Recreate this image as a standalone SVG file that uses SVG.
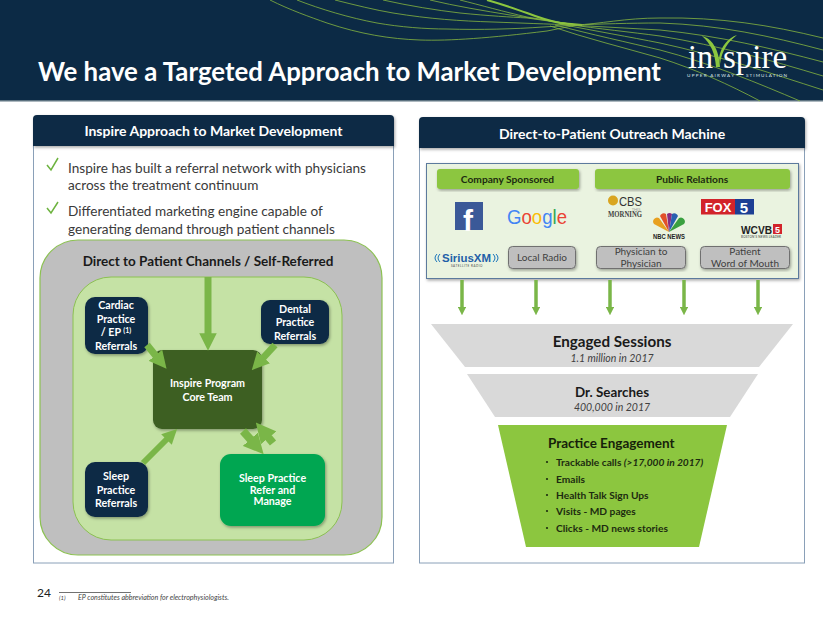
<svg xmlns="http://www.w3.org/2000/svg" width="823" height="637" viewBox="0 0 823 637">
<defs>
<filter id="sh" x="-10%" y="-10%" width="125%" height="125%"><feDropShadow dx="1" dy="1.5" stdDeviation="1.5" flood-color="#000" flood-opacity="0.35"/></filter>
<marker id="ah" viewBox="0 0 10 10" refX="0.5" refY="5" markerWidth="2.5" markerHeight="2.5" orient="auto" markerUnits="strokeWidth"><path d="M0 0L10 5L0 10Z" fill="#7ab648"/></marker>
</defs>
<style>
text{font-family:Lato,"Liberation Sans",sans-serif}
.hd{font-size:14px;font-weight:700;fill:#fff;text-anchor:middle}
.body{font-size:13.6px;fill:#3a3a3a}
.chk{fill:none;stroke:#6db33f;stroke-width:1.5}
.nd{font-size:10.7px;font-weight:700;fill:#fff;text-anchor:middle}
.navy{fill:#0c2a45;filter:url(#sh)}
.gr{font-size:10.2px;font-weight:700;fill:#1c2b10;text-anchor:middle}
.gbtn{fill:#bfbfbf;stroke:#6f6f6f;stroke-width:1;filter:url(#sh)}
.gt{font-size:10px;fill:#404040;text-anchor:middle}
.arr{stroke:#7ab648;fill:none}
.bul{font-size:10.2px;font-weight:700;fill:#1c2b10}
.dot{fill:#1c2b10}
.w{fill:none;stroke:#86b640;stroke-width:.8}
.serif{font-family:"Liberation Serif",serif}
.arial{font-family:"Liberation Sans",sans-serif}
</style>
<rect width="823" height="637" fill="#fff"/>
<g id="banner">
<rect width="823" height="101" fill="#0c2a45"/>
<rect y="100" width="823" height="1.500" fill="#5d7280"/>
<path class="w" d="M270 0C290 10 310 17 327 23C360 34 390 39 420 40C450 41 490 38 547 31L577 25"/>
<path class="w" d="M297 0C320 9 350 18 377 23C400 27 425 29 447 29C480 30 515 29 543 27L577 25"/>
<path class="w" d="M335 0C355 5 375 10 393 13C430 19 460 21 493 22C520 23 545 24 577 25"/>
<path class="w" d="M383 0C410 6 435 10 460 13C490 16 510 17 527 18L577 25"/>
<path class="w" d="M430 0C455 6 485 11 510 15L577 25"/>
<path class="w" d="M460 0C480 5 505 12 527 17L577 25"/>
<path d="M487 0C505 5 515 9 527 13C540 18 550 21 560 23L582 25" fill="none" stroke="#8cc63f" stroke-width="2"/>
<path class="w" d="M575 25C600 24 625 18 660 18C720 17 770 25 823 38"/>
<path class="w" d="M575 25C600 24 630 23 660 23C720 25 770 36 823 50"/>
<path class="w" d="M570 25C600 27 630 28 660 30C720 36 770 48 823 62"/>
<path class="w" d="M565 24C600 29 630 32 660 36C720 46 770 60 823 76"/>
<path class="w" d="M560 24C595 31 630 37 660 43C720 56 770 73 823 90"/>
<path class="w" d="M555 25C590 34 630 43 660 50C710 63 760 84 800 101"/>
<path class="w" d="M550 26C585 38 625 48 660 58C695 69 730 85 760 101"/>
</g>
<text id="title" x="38" y="81" font-size="25.800" font-weight="700" fill="#fff">We have a Targeted Approach to Market Development</text>
<g id="logo">
<path d="M702 36C711 38 719 48 720 67H716C715 53 711 44 702 36Z" fill="#8cc63f"/>
<path d="M737 35C728 38 721 46 719 58L720 64C722 50 728 42 737 35Z" fill="#8cc63f"/>
<text class="serif" x="688" y="68" font-size="33" fill="#fff" textLength="25" lengthAdjust="spacingAndGlyphs">in</text>
<text class="serif" x="723" y="68" font-size="33" fill="#fff" textLength="64" lengthAdjust="spacingAndGlyphs">spire</text>
<text x="687" y="77" font-size="4.600" fill="#dfe7ea" textLength="47">UPPER AIRWAY</text>
<text x="746" y="77" font-size="4.600" fill="#dfe7ea" textLength="41">STIMULATION</text>
</g>
<g id="panel-left">
<rect x="33.500" y="125" width="360" height="438" fill="#fff" stroke="#8aa0b8" stroke-width="1"/>
<path d="M33 146V119a4 4 0 0 1 4-4H390a4 4 0 0 1 4 4V146Z" fill="#0c2a45" filter="url(#sh)"/>
<text class="hd" x="213.500" y="136">Inspire Approach to Market Development</text>
<path class="chk" d="M47 165L51 170L58 158"/>
<text class="body" x="68" y="172.500">Inspire has built a referral network with physicians</text>
<text class="body" x="68" y="190">across the treatment continuum</text>
<path class="chk" d="M47 208L51 213L58 202"/>
<text class="body" x="68" y="216">Differentiated marketing engine capable of</text>
<text class="body" x="68" y="233.500">generating demand through patient channels</text>
</g>
<g id="panel-right">
<rect x="419.500" y="125" width="385" height="438" fill="#fff" stroke="#8aa0b8" stroke-width="1"/>
<path d="M419 148V121a4 4 0 0 1 4-4H801a4 4 0 0 1 4 4V148Z" fill="#0c2a45" filter="url(#sh)"/>
<text class="hd" x="612" y="138.500">Direct-to-Patient Outreach Machine</text>
</g>
<g id="outer-channels">
<rect x="40" y="240" width="342" height="315" rx="38" fill="#bfbfbf" stroke="#8cc152" stroke-width="1.200"/>
<text x="208" y="266" font-size="13.500" font-weight="700" fill="#1a1a1a" text-anchor="middle">Direct to Patient Channels / Self-Referred</text>
</g>
<g id="inner-channels">
<rect x="73" y="277" width="269" height="263" rx="38" fill="#c5e2a5" stroke="#8cc152" stroke-width="1"/>
</g>
<g id="node-cardiac"><rect class="navy" x="85" y="297" width="63" height="57" rx="10"/>
<text class="nd" x="116" y="309">Cardiac</text><text class="nd" x="116" y="322.500">Practice</text><text class="nd" x="116" y="336">/ EP <tspan font-size="7" dy="-3">(1)</tspan></text><text class="nd" x="116" y="350">Referrals</text></g>
<g id="node-dental"><rect class="navy" x="261" y="300" width="68" height="44" rx="9"/>
<text class="nd" x="295" y="312.500">Dental</text><text class="nd" x="295" y="326">Practice</text><text class="nd" x="295" y="340">Referrals</text></g>
<g id="node-sleep"><rect class="navy" x="85" y="462" width="63" height="55" rx="10"/>
<text class="nd" x="116" y="480">Sleep</text><text class="nd" x="116" y="494">Practice</text><text class="nd" x="116" y="507">Referrals</text></g>
<g id="node-core"><rect x="153" y="350" width="109" height="79" rx="9" fill="#3c5e21" filter="url(#sh)"/>
<text class="nd" x="207.500" y="387">Inspire Program</text><text class="nd" x="207.500" y="401">Core Team</text></g>
<g id="node-manage"><rect x="220" y="454" width="105" height="72" rx="11" fill="#00a651" filter="url(#sh)"/>
<text class="nd" x="272.500" y="482">Sleep Practice</text><text class="nd" x="272.500" y="493.500">Refer and</text><text class="nd" x="272.500" y="504.500">Manage</text></g>
<g id="sources">
<rect x="426.500" y="163.500" width="372" height="115" fill="#eaf3e0" stroke="#5b7a9d" stroke-width="1" filter="url(#sh)"/>
<rect x="437" y="169" width="142" height="20" rx="3" fill="#8cc63f" filter="url(#sh)"/>
<text class="gr" x="507.500" y="182.500">Company Sponsored</text>
<rect x="595" y="169" width="195" height="20" rx="3" fill="#8cc63f" filter="url(#sh)"/>
<text class="gr" x="692" y="182.500">Public Relations</text>
<rect class="gbtn" x="508.500" y="246.500" width="67" height="22" rx="4"/>
<text class="gt" x="542" y="261">Local Radio</text>
<rect class="gbtn" x="596.500" y="246.500" width="89" height="22" rx="4"/>
<text class="gt" x="641" y="254.500">Physician to</text><text class="gt" x="641" y="267">Physician</text>
<rect class="gbtn" x="700.500" y="246.500" width="89" height="22" rx="4"/>
<text class="gt" x="745" y="254.500">Patient</text><text class="gt" x="745" y="267">Word of Mouth</text>
</g>
<g id="logos">
<rect x="455" y="202" width="28" height="28" fill="#3b5998"/>
<text class="arial" x="463" y="231" font-size="30" font-weight="700" fill="#fff">f</text>
<text class="arial" x="507" y="224" font-size="20.500" textLength="60" lengthAdjust="spacingAndGlyphs"><tspan fill="#4285f4">G</tspan><tspan fill="#ea4335">o</tspan><tspan fill="#fbbc05">o</tspan><tspan fill="#4285f4">g</tspan><tspan fill="#34a853">l</tspan><tspan fill="#ea4335">e</tspan></text>
<path d="M437 254Q433 258 437 262M440 254Q436 258 440 262M496 254Q500 258 496 262M493 254Q497 258 493 262" fill="none" stroke="#1b75bb" stroke-width="1"/>
<text class="arial" x="442" y="262" font-size="11" font-weight="700" fill="#1f5fa8" textLength="49" lengthAdjust="spacingAndGlyphs">SiriusXM</text>
<text x="467" y="266.500" font-size="3" fill="#444" text-anchor="middle" letter-spacing=".5">SATELLITE RADIO</text>
<circle cx="613" cy="200.500" r="5" fill="#d9a520"/>
<text class="arial" x="619" y="206" font-size="13" fill="#333" textLength="23" lengthAdjust="spacingAndGlyphs">CBS</text>
<text x="636" y="210.500" font-size="4" fill="#999" text-anchor="middle">THIS</text>
<text class="serif" x="608" y="216.500" font-size="7.500" font-weight="700" fill="#444" textLength="34" lengthAdjust="spacingAndGlyphs">MORNING</text>
<g id="nbc-peacock"><path d="M669 232L654 224A4 4 0 0 1 659 218Z" fill="#e8a020"/><path d="M669 232L660 216A4 4 0 0 1 666 214Z" fill="#e2502a"/><path d="M669 232L667 214A4 4 0 0 1 672 214Z" fill="#8a2a80"/><path d="M669 232L672 214A4 4 0 0 1 678 216Z" fill="#2a60b0"/><path d="M669 232L679 218A4 4 0 0 1 684 224Z" fill="#3aa040"/></g>
<text class="arial" x="653" y="238.500" font-size="7" font-weight="700" fill="#222" textLength="32" lengthAdjust="spacingAndGlyphs">NBC NEWS</text>
<rect x="701" y="199" width="34" height="15.500" fill="#d2232a"/>
<rect x="735" y="199" width="19" height="15.500" fill="#1d3f94"/>
<text class="arial" x="718" y="212" font-size="13" font-weight="700" fill="#fff" text-anchor="middle">FOX</text>
<text class="arial" x="744" y="213" font-size="15" font-weight="700" fill="#fff" text-anchor="middle">5</text>
<text class="arial" x="741" y="234" font-size="11" font-weight="700" fill="#222" textLength="31" lengthAdjust="spacingAndGlyphs">WCVB</text>
<rect x="773" y="224" width="9" height="10" fill="#d2232a"/><text class="arial" x="777.500" y="233" font-size="9" font-weight="700" fill="#fff" text-anchor="middle">5</text>
<text x="741" y="238" font-size="3" fill="#333" textLength="40">BOSTON'S NEWS LEADER</text>
</g>
<g id="connectors">
<path class="arr" stroke-width="7" marker-end="url(#ah)" d="M208 277V334"/>
<path class="arr" stroke-width="7" marker-end="url(#ah)" d="M147 345L156 356"/>
<path class="arr" stroke-width="7" marker-end="url(#ah)" d="M275 345L263 358"/>
<path class="arr" stroke-width="6" marker-end="url(#ah)" d="M143 463L167 439"/>
<path class="arr" stroke-width="8" marker-end="url(#ah)" d="M243 431L251 440"/>
<path class="arr" stroke-width="8" marker-end="url(#ah)" d="M273 443L268 437"/>
<path class="arr" stroke-width="3.500" marker-end="url(#ah)" d="M462 280V307"/>
<path class="arr" stroke-width="3.500" marker-end="url(#ah)" d="M536 280V307"/>
<path class="arr" stroke-width="3.500" marker-end="url(#ah)" d="M610 280V307"/>
<path class="arr" stroke-width="3.500" marker-end="url(#ah)" d="M684 280V307"/>
<path class="arr" stroke-width="3.500" marker-end="url(#ah)" d="M758 280V307"/>
</g>
<g id="funnel-engaged"><path d="M431 324H793L759 367H465Z" fill="#d9d9d9"/>
<text x="612" y="347" font-size="15.200" font-weight="700" fill="#1a1a1a" text-anchor="middle">Engaged Sessions</text>
<text x="612" y="362" font-size="10.500" font-style="italic" fill="#404040" text-anchor="middle">1.1 million in 2017</text></g>
<g id="funnel-searches"><path d="M467 374H758L730 417H495Z" fill="#d9d9d9"/>
<text x="612" y="397" font-size="13.400" font-weight="700" fill="#1a1a1a" text-anchor="middle">Dr. Searches</text>
<text x="612" y="411" font-size="10.500" font-style="italic" fill="#404040" text-anchor="middle">400,000 in 2017</text></g>
<g id="funnel-practice"><path d="M498 425H727L699 547H526Z" fill="#8cc63f"/>
<text x="548" y="448" font-size="13.500" font-weight="700" fill="#16210a">Practice Engagement</text>
<text class="bul" x="556" y="466">Trackable calls <tspan font-style="italic">(&gt;17,000 in 2017)</tspan></text>
<text class="bul" x="556" y="483">Emails</text>
<text class="bul" x="556" y="499">Health Talk Sign Ups</text>
<text class="bul" x="556" y="515">Visits - MD pages</text>
<text class="bul" x="556" y="532">Clicks - MD news stories</text>
<circle class="dot" cx="547" cy="462" r="1.100"/><circle class="dot" cx="547" cy="479" r="1.100"/><circle class="dot" cx="547" cy="495" r="1.100"/><circle class="dot" cx="547" cy="511" r="1.100"/><circle class="dot" cx="547" cy="528" r="1.100"/>
</g>
<g id="footer">
<text x="37" y="597" font-size="12" fill="#222">24</text>
<path d="M59 592.500H131" stroke="#333" stroke-width=".7"/>
<text x="59" y="600" font-size="6" font-style="italic" fill="#444">(1)</text>
<text x="78" y="600" font-size="7.100" font-style="italic" fill="#444">EP constitutes abbreviation for electrophysiologists.</text>
</g>
</svg>
